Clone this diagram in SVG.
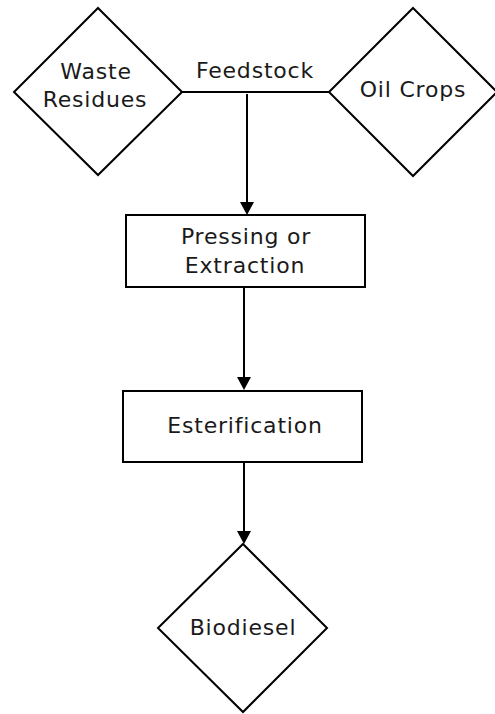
<svg xmlns="http://www.w3.org/2000/svg" width="495" height="714" viewBox="0 0 495 714">
<style>
.s{fill:#fff;stroke:#000;stroke-width:2}
.c{fill:none;stroke:#000;stroke-width:2}
text{font-family:"DejaVu Sans","Liberation Sans",sans-serif;font-size:22px;letter-spacing:0.8px;fill:#1a1a1a;text-anchor:middle}
</style>
<defs>
<marker id="ah" viewBox="0 0 14 13" refX="7" refY="13" markerWidth="14" markerHeight="13" markerUnits="userSpaceOnUse" orient="auto-start-reverse">
<path d="M0,0 L14,0 L7,13 Z" fill="#000"/>
</marker>
</defs>
<rect width="495" height="714" fill="#fff"/>
<g id="connectors">
<line class="c" x1="182" y1="92" x2="329" y2="92"/>
<path class="c" d="M247,94 V202"/>
<path d="M240,202 L254,202 L247,215 Z" fill="#000"/>
<path class="c" d="M244,287 V377"/>
<path d="M237,377 L251,377 L244,390 Z" fill="#000"/>
<path class="c" d="M244,462 V531"/>
<path d="M237,531 L251,531 L244,544 Z" fill="#000"/>
</g>
<g id="feedstock-label">
<text x="255" y="78">Feedstock</text>
</g>
<g id="waste-residues">
<polygon class="s" points="98,8 182,92 98,175 14,92"/>
<text x="96" y="79">Waste</text>
<text x="95" y="107">Residues</text>
</g>
<g id="oil-crops">
<polygon class="s" points="413,8 497,92 413,176 329,92"/>
<text x="413" y="97">Oil Crops</text>
</g>
<g id="pressing">
<rect class="s" x="126" y="215" width="239" height="72"/>
<text x="246" y="244">Pressing or</text>
<text x="245" y="273">Extraction</text>
</g>
<g id="esterification">
<rect class="s" x="123" y="391" width="239" height="71"/>
<text x="245" y="433">Esterification</text>
</g>
<g id="biodiesel">
<polygon class="s" points="243,544 327,628 243,712 158,628"/>
<text x="243" y="635">Biodiesel</text>
</g>
</svg>
